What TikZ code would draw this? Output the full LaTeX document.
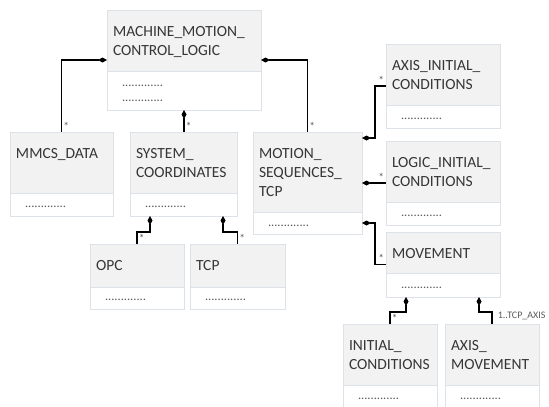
\documentclass[tikz,border=0pt]{standalone}
\usepackage{fontspec}
\setmainfont{Carlito}
\usetikzlibrary{positioning,arrows.meta,shadows}
\definecolor{headgray}{HTML}{F2F2F2}
\definecolor{boxline}{HTML}{DDE2E8}
\definecolor{titletext}{HTML}{363636}
\definecolor{dotgray}{HTML}{5A5A5A}
\tikzset{
	classhead/.style 2 args={draw=boxline, fill=headgray, anchor=north west, align=left, outer sep=0pt,
		inner xsep=6pt, inner ysep=0pt, text height=26.5pt, text width=#1, text depth=#2,
		text=titletext, font=\fontsize{15.5}{19}\selectfont},
	classbody/.style n args={3}{draw=boxline, fill=white, align=left, outer sep=0pt,
		inner xsep=15pt, inner ysep=0pt, text width=#1, text height=#2, text depth=#3,
		text=dotgray, font=\fontsize{12.5}{15}\selectfont,
		drop shadow={shadow xshift=0.6pt, shadow yshift=-0.9pt, fill=blue!40!gray, opacity=0.25}},
	comp/.style={{Diamond[length=9pt,width=5pt]}-, line width=1.4pt},
	mult/.style={font=\fontsize{11.5}{11.5}\selectfont, text=dotgray, inner sep=1.2pt},
}
\begin{document}
\begin{tikzpicture}[x=1pt,y=-1pt]
	\useasboundingbox (0,0) rectangle (549,407);

	\node[classhead={142pt}{34.5pt}] (mmcl) at (107,10) {MACHINE\_MOTION\_\\CONTROL\_LOGIC};
	\node[classbody={124pt}{15pt}{24pt}, below=0pt of mmcl] (mmcl-b) {.............\\.............};

	\node[classhead={91pt}{34.5pt}] (mmcs) at (10,132) {MMCS\_DATA};
	\node[classbody={73pt}{14pt}{9pt}, below=0pt of mmcs] (mmcs-b) {.............};

	\node[classhead={95pt}{34.5pt}] (sys) at (130,132) {SYSTEM\_\\COORDINATES};
	\node[classbody={77pt}{14pt}{9pt}, below=0pt of sys] (sys-b) {.............};

	\node[classhead={97pt}{53.5pt}] (mstcp) at (253,132) {MOTION\_\\SEQUENCES\_\\TCP};
	\node[classbody={79pt}{14pt}{8pt}, below=0pt of mstcp] (mstcp-b) {.............};

	\node[classhead={102pt}{34.5pt}] (aic) at (386,44) {AXIS\_INITIAL\_\\CONDITIONS};
	\node[classbody={84pt}{14pt}{9pt}, below=0pt of aic] (aic-b) {.............};

	\node[classhead={102pt}{34.5pt}] (lic) at (386,141) {LOGIC\_INITIAL\_\\CONDITIONS};
	\node[classbody={84pt}{14pt}{9pt}, below=0pt of lic] (lic-b) {.............};

	\node[classhead={102pt}{14.5pt}] (mov) at (386,232) {MOVEMENT};
	\node[classbody={84pt}{15pt}{9pt}, below=0pt of mov] (mov-b) {.............};

	\node[classhead={82pt}{16.5pt}] (opc) at (90,244) {OPC};
	\node[classbody={64pt}{13pt}{9pt}, below=0pt of opc] (opc-b) {.............};

	\node[classhead={83pt}{16.5pt}] (tcp) at (190,244) {TCP};
	\node[classbody={65pt}{13pt}{9pt}, below=0pt of tcp] (tcp-b) {.............};

	\node[classhead={82pt}{34.5pt}] (ic) at (343,324) {INITIAL\_\\CONDITIONS};
	\node[classbody={64pt}{14pt}{9pt}, below=0pt of ic] (ic-b) {.............};

	\node[classhead={82pt}{34.5pt}] (am) at (445,324) {AXIS\_\\MOVEMENT};
	\node[classbody={64pt}{14pt}{9pt}, below=0pt of am] (am-b) {.............};

	% compositions
	\draw[comp] ([yshift=-19.5pt]mmcl.west) -| node[mult, pos=1, above right] {*} (mmcs.north);
	\draw[comp] (mmcl-b.south) -- node[mult, pos=1, above right] {*} (mmcl-b.south |- sys.north);
	\draw[comp] ([yshift=-19.5pt]mmcl.east) -| node[mult, pos=1, above right] {*} (mstcp.north);

	\draw[comp] ([yshift=-6pt]mstcp.north east) -- ++(13,0) |- node[mult, pos=1, above left] {*} ([yshift=-11.5pt]aic.west);
	\draw[comp] ([yshift=-11pt]mstcp.east) -- node[mult, pos=1, above left] {*} ([yshift=-11pt]mstcp.east -| lic.west);
	\draw[comp] (mstcp-b.east) -- ++(13,0) |- node[mult, pos=1, above left] {*} ([yshift=-12pt]mov.west);

	\draw[comp] ([xshift=-33.5pt]sys-b.south) -- ++(0,16) -| node[mult, pos=1, above right] {*} (opc.north);
	\draw[comp] ([xshift=39.5pt]sys-b.south) -- ++(0,16) -| node[mult, pos=1, above right] {*} (tcp.north);

	\draw[comp] ([xshift=-37pt]mov-b.south) -- ++(0,15) -| node[mult, pos=1, above right] {*} (ic.north);
	\draw[comp] ([xshift=36pt]mov-b.south) -- ++(0,15) -| node[mult, pos=1, anchor=south west, xshift=4pt, yshift=2pt, font=\fontsize{10}{10}\selectfont] {1..TCP\_AXIS} (am.north);
\end{tikzpicture}
\end{document}
